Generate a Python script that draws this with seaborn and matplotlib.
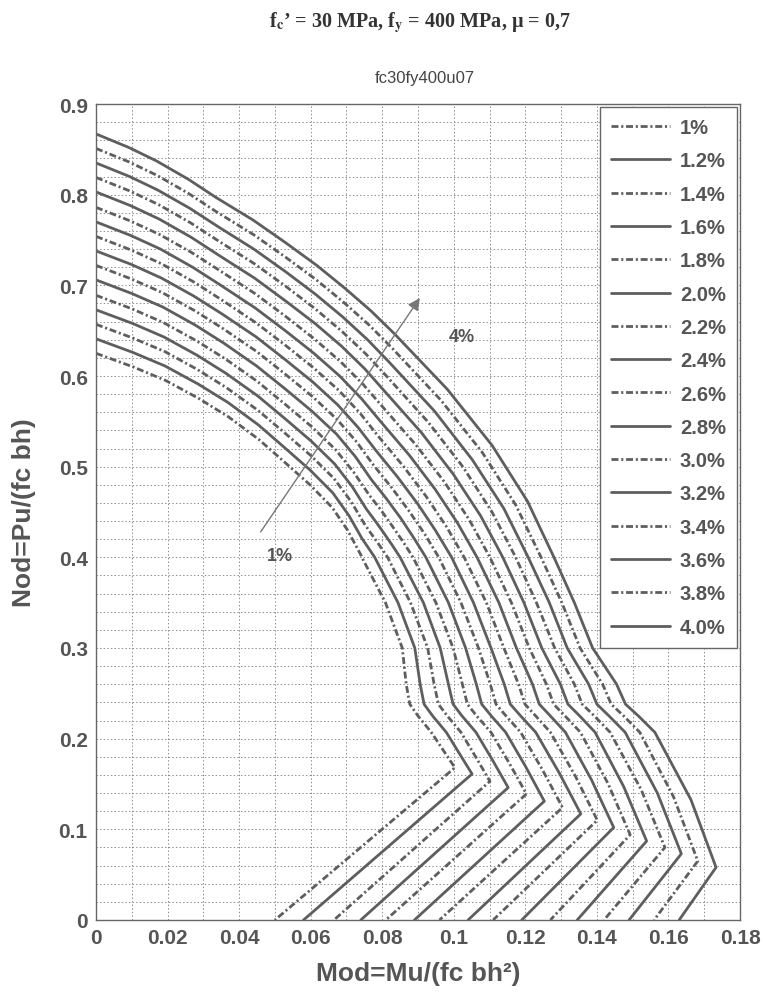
"""
Interaction diagram fc30fy400u07 redrawn with seaborn.
Each curve is a polyline through points read off the scanned chart.
"""

import matplotlib
matplotlib.use("Agg")
import matplotlib.pyplot as plt
import seaborn as sns
from matplotlib.ticker import MultipleLocator

# ---------------------------------------------------------------------------
# DATA (one value per curve, 1% ... 4.0%)
# ---------------------------------------------------------------------------
rho_labels = ["1%", "1.2%", "1.4%", "1.6%", "1.8%", "2.0%", "2.2%", "2.4%",
              "2.6%", "2.8%", "3.0%", "3.2%", "3.4%", "3.6%", "3.8%", "4.0%"]

# value at Mod = 0
y_top = [0.625, 0.641, 0.657, 0.673, 0.689, 0.706, 0.722, 0.738,
         0.754, 0.770, 0.786, 0.803, 0.819, 0.835, 0.851, 0.867]

# upper arc: Mod read at a given drop below y_top
arc_drop = [0.015, 0.03, 0.05, 0.07, 0.095, 0.12, 0.145, 0.17, 0.195, 0.22]
x_arc_015 = [0.0104, 0.0103, 0.0102, 0.0102, 0.0101, 0.0100, 0.0099, 0.0099,
             0.0098, 0.0097, 0.0096, 0.0096, 0.0095, 0.0094, 0.0093, 0.0092]
x_arc_030 = [0.0195, 0.0193, 0.0192, 0.0190, 0.0188, 0.0187, 0.0185, 0.0183,
             0.0182, 0.0180, 0.0178, 0.0177, 0.0175, 0.0173, 0.0172, 0.0170]
x_arc_050 = [0.0288, 0.0286, 0.0284, 0.0282, 0.0280, 0.0278, 0.0276, 0.0274,
             0.0272, 0.0270, 0.0268, 0.0266, 0.0264, 0.0262, 0.0260, 0.0258]
x_arc_070 = [0.0370, 0.0368, 0.0365, 0.0363, 0.0361, 0.0358, 0.0356, 0.0354,
             0.0351, 0.0349, 0.0347, 0.0344, 0.0342, 0.0340, 0.0337, 0.0335]
x_arc_095 = [0.0455, 0.0454, 0.0453, 0.0452, 0.0451, 0.0449, 0.0449, 0.0448,
             0.0446, 0.0445, 0.0444, 0.0443, 0.0442, 0.0441, 0.0440, 0.0439]
x_arc_120 = [0.0527, 0.0527, 0.0528, 0.0528, 0.0528, 0.0528, 0.0529, 0.0529,
             0.0529, 0.0529, 0.0529, 0.0529, 0.0530, 0.0530, 0.0530, 0.0530]
x_arc_145 = [0.0598, 0.0599, 0.0601, 0.0602, 0.0603, 0.0604, 0.0606, 0.0607,
             0.0608, 0.0609, 0.0610, 0.0612, 0.0613, 0.0614, 0.0616, 0.0617]
x_arc_170 = [0.0660, 0.0662, 0.0665, 0.0667, 0.0669, 0.0672, 0.0674, 0.0676,
             0.0679, 0.0681, 0.0683, 0.0686, 0.0688, 0.0690, 0.0693, 0.0695]
x_arc_195 = [0.0703, 0.0707, 0.0712, 0.0716, 0.0720, 0.0725, 0.0729, 0.0733,
             0.0738, 0.0742, 0.0746, 0.0751, 0.0755, 0.0759, 0.0764, 0.0768]
x_arc_220 = [0.0737, 0.0743, 0.0750, 0.0756, 0.0763, 0.0769, 0.0775, 0.0782,
             0.0788, 0.0795, 0.0801, 0.0807, 0.0814, 0.0820, 0.0827, 0.0833]

# three points between the end of the arc and Nod = 0.40
x_bend_1 = [0.0739, 0.0752, 0.0766, 0.0781, 0.0797, 0.0812, 0.0827, 0.0843,
            0.0859, 0.0876, 0.0893, 0.0910, 0.0928, 0.0946, 0.0964, 0.0982]
y_bend_1 = [0.4038, 0.4158, 0.4278, 0.4398, 0.4518, 0.4645, 0.4765, 0.4885,
            0.5005, 0.5125, 0.5245, 0.5373, 0.5493, 0.5613, 0.5733, 0.5853]
x_bend_2 = [0.0740, 0.0761, 0.0783, 0.0805, 0.0828, 0.0852, 0.0875, 0.0899,
            0.0923, 0.0948, 0.0974, 0.0999, 0.1026, 0.1052, 0.1080, 0.1107]
y_bend_2 = [0.4025, 0.4105, 0.4185, 0.4265, 0.4345, 0.4430, 0.4510, 0.4590,
            0.4670, 0.4750, 0.4830, 0.4915, 0.4995, 0.5075, 0.5155, 0.5235]
x_bend_3 = [0.0742, 0.0770, 0.0799, 0.0828, 0.0858, 0.0888, 0.0919, 0.0949,
            0.0980, 0.1011, 0.1043, 0.1075, 0.1107, 0.1140, 0.1173, 0.1206]
y_bend_3 = [0.4013, 0.4053, 0.4093, 0.4133, 0.4173, 0.4215, 0.4255, 0.4295,
            0.4335, 0.4375, 0.4415, 0.4458, 0.4498, 0.4538, 0.4578, 0.4618]

# Mod where each curve crosses Nod = 0.40, 0.35, 0.30, 0.26
levels = [0.40, 0.35, 0.30, 0.26]
x_at_040 = [0.0743, 0.0779, 0.0815, 0.0850, 0.0886, 0.0922, 0.0958, 0.0994,
            0.1029, 0.1065, 0.1101, 0.1137, 0.1173, 0.1208, 0.1244, 0.1280]
x_at_035 = [0.0809, 0.0844, 0.0879, 0.0915, 0.0950, 0.0985, 0.1020, 0.1055,
            0.1091, 0.1126, 0.1161, 0.1196, 0.1231, 0.1267, 0.1302, 0.1337]
x_at_030 = [0.0856, 0.0891, 0.0927, 0.0962, 0.0998, 0.1033, 0.1069, 0.1104,
            0.1140, 0.1175, 0.1211, 0.1246, 0.1282, 0.1317, 0.1353, 0.1388]
x_at_026 = [0.0867, 0.0906, 0.0945, 0.0985, 0.1024, 0.1063, 0.1102, 0.1141,
            0.1181, 0.1220, 0.1259, 0.1298, 0.1337, 0.1377, 0.1416, 0.1455]

# the kink near Nod = 0.24
kink_y = [0.238, 0.225]
x_kink_a = [0.0877, 0.0917, 0.0957, 0.0998, 0.1038, 0.1078, 0.1118, 0.1158,
            0.1199, 0.1239, 0.1279, 0.1319, 0.1359, 0.1400, 0.1440, 0.1480]
x_kink_b = [0.0900, 0.0941, 0.0982, 0.1023, 0.1064, 0.1105, 0.1146, 0.1187,
            0.1229, 0.1270, 0.1311, 0.1352, 0.1393, 0.1434, 0.1475, 0.1516]

# shoulder below the kink
shoulder_y = 0.207
x_shoulder = [0.0937, 0.0979, 0.1020, 0.1062, 0.1104, 0.1145, 0.1187, 0.1229,
              0.1270, 0.1312, 0.1354, 0.1395, 0.1437, 0.1479, 0.1520, 0.1562]
x_upper_mid = [0.0970, 0.1015, 0.1061, 0.1108, 0.1155, 0.1201, 0.1248, 0.1295,
               0.1340, 0.1385, 0.1431, 0.1475, 0.1524, 0.1569, 0.1614, 0.1663]
y_upper_mid = [0.1875, 0.1840, 0.1800, 0.1765, 0.1730, 0.1690, 0.1655, 0.1620,
               0.1585, 0.1545, 0.1505, 0.1470, 0.1435, 0.1400, 0.1360, 0.1325]

# tip (max Mod) and the foot at Nod = 0
x_tip = [0.1003, 0.1051, 0.1101, 0.1152, 0.1203, 0.1253, 0.1304, 0.1355,
         0.1401, 0.1447, 0.1493, 0.1539, 0.1590, 0.1636, 0.1682, 0.1733]
y_tip = [0.168, 0.161, 0.153, 0.146, 0.139, 0.131, 0.124, 0.117,
         0.110, 0.102, 0.094, 0.087, 0.080, 0.073, 0.065, 0.058]
x_foot = [0.050, 0.058, 0.0665, 0.074, 0.081, 0.089, 0.096, 0.104,
          0.111, 0.119, 0.127, 0.1345, 0.142, 0.149, 0.156, 0.163]

x_ticks = [0, 0.02, 0.04, 0.06, 0.08, 0.10, 0.12, 0.14, 0.16, 0.18]
x_tick_labels = ["0", "0.02", "0.04", "0.06", "0.08", "0.1", "0.12", "0.14", "0.16", "0.18"]
y_ticks = [0, 0.1, 0.2, 0.3, 0.4, 0.5, 0.6, 0.7, 0.8, 0.9]
y_tick_labels = ["0", "0.1", "0.2", "0.3", "0.4", "0.5", "0.6", "0.7", "0.8", "0.9"]

# arrow through the family, 1% -> 4%
arrow_tail = (0.046, 0.428)
arrow_head = (0.0905, 0.686)
label_low = (0.0514, 0.402)
label_high = (0.1023, 0.644)

# ---------------------------------------------------------------------------
# STYLE
# ---------------------------------------------------------------------------
sns.set_theme(style="white")
plt.rcParams["font.family"] = ["Liberation Sans", "DejaVu Sans"]
plt.rcParams["mathtext.fontset"] = "stix"
plt.rcParams["lines.scale_dashes"] = False

INK = "#5e5e5e"
TXT = "#555555"
DASHDOT = (0, (5.0, 2.0, 1.5, 2.0))

fig = plt.figure(figsize=(7.64, 10.04), dpi=100)
ax = fig.add_axes([0.1257, 0.0827, 0.8429, 0.8127])

x_arcs = [x_arc_015, x_arc_030, x_arc_050, x_arc_070, x_arc_095, x_arc_120,
          x_arc_145, x_arc_170, x_arc_195, x_arc_220]

for i, label in enumerate(rho_labels):
    xs = ([0.0] + [a[i] for a in x_arcs]
          + [x_bend_1[i], x_bend_2[i], x_bend_3[i]]
          + [x_at_040[i], x_at_035[i], x_at_030[i], x_at_026[i]]
          + [x_kink_a[i], x_kink_b[i], x_shoulder[i], x_upper_mid[i],
             x_tip[i], x_foot[i]])
    ys = ([y_top[i]] + [y_top[i] - d for d in arc_drop]
          + [y_bend_1[i], y_bend_2[i], y_bend_3[i]]
          + levels + kink_y + [shoulder_y, y_upper_mid[i], y_tip[i], 0.0])
    ls = DASHDOT if i % 2 == 0 else "-"
    sns.lineplot(x=xs, y=ys, sort=False, estimator=None, ax=ax,
                 color=INK, lw=2.0, linestyle=ls, label=label)

# arrow and its two labels
ax.annotate("", xy=arrow_head, xytext=arrow_tail,
            arrowprops=dict(arrowstyle="-|>", color="#777777", lw=1.0,
                            mutation_scale=18, shrinkA=0, shrinkB=0))
ax.text(*label_low, "1%", ha="center", va="center", fontsize=13,
        fontweight="bold", color=TXT)
ax.text(*label_high, "4%", ha="center", va="center", fontsize=13,
        fontweight="bold", color=TXT)

# axes, ticks and dotted grid
ax.set_xlim(0, 0.18)
ax.set_ylim(0, 0.9)
ax.set_xticks(x_ticks, x_tick_labels)
ax.set_yticks(y_ticks, y_tick_labels)
ax.xaxis.set_minor_locator(MultipleLocator(0.01))
ax.yaxis.set_minor_locator(MultipleLocator(0.02))
ax.set_axisbelow(True)
ax.grid(which="both", color="#8a8a8a", lw=0.7, linestyle=(0, (1, 1.6)))
ax.tick_params(which="major", direction="in", length=4, color="#666666",
               labelsize=15, labelcolor=TXT, pad=6)
ax.tick_params(which="minor", length=0)
for lab in ax.get_xticklabels() + ax.get_yticklabels():
    lab.set_fontweight("bold")
for sp in ax.spines.values():
    sp.set_color("#666666")
    sp.set_linewidth(1.0)

ax.set_xlabel("Mod=Mu/(fc bh²)", fontsize=19, fontweight="bold", color=TXT, labelpad=10)
ax.set_ylabel("Nod=Pu/(fc bh)", fontsize=19, fontweight="bold", color=TXT, labelpad=16)

leg = ax.legend(loc="upper right", borderaxespad=0.15, frameon=True,
                fancybox=False, edgecolor="#666666", framealpha=1,
                prop={"size": 14.5, "weight": "bold"}, labelcolor=TXT,
                labelspacing=0.71, handlelength=2.9, handletextpad=0.5,
                borderpad=0.55)
leg.get_frame().set_linewidth(1.0)

# titles
fig.text(0.556, 0.9223, "fc30fy400u07", ha="center", va="center",
         fontsize=12, color="#444444")
fig.text(0.55, 0.978,
         r"f$_\mathbf{c}$’ = 30 MPa, f$_\mathbf{y}$ = 400 MPa, μ = 0,7",
         ha="center", va="center", fontsize=14.5, fontweight="bold",
         family=["Liberation Serif", "DejaVu Serif"], color="#333333")

fig.savefig("out.png", dpi=100)
